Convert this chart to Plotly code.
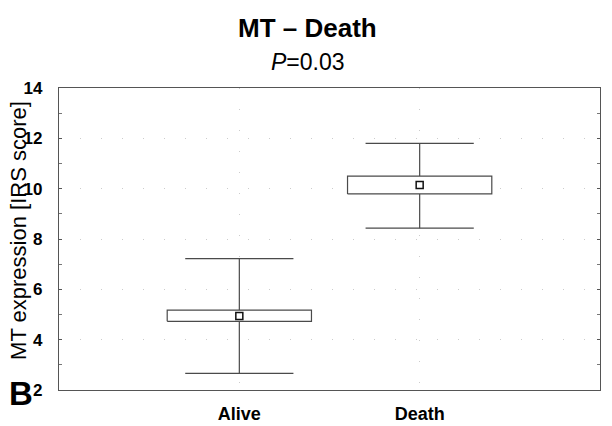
import plotly.graph_objects as go

# Group summary: mean, box (mean ± SE) and whiskers (mean ± 1.96·SD)
groups = ["Alive", "Death"]
means = [4.94, 10.15]
box_low = [4.73, 9.79]
box_high = [5.17, 10.50]
whisker_low = [2.66, 8.43]
whisker_high = [7.22, 11.80]

y_ticks = [2, 4, 6, 8, 10, 12, 14]

BOX_HALF = 0.4
CAP_HALF = 0.3
LINE = "#4a4a4a"
FONT = "Liberation Sans, Arial, sans-serif"

fig = go.Figure()
for i, name in enumerate(groups):
    # whiskers with caps
    fig.add_trace(go.Scatter(
        x=[i - CAP_HALF, i + CAP_HALF, None, i, i, None, i, i, None, i - CAP_HALF, i + CAP_HALF],
        y=[whisker_high[i], whisker_high[i], None, whisker_high[i], box_high[i], None,
           box_low[i], whisker_low[i], None, whisker_low[i], whisker_low[i]],
        mode="lines", line=dict(color=LINE, width=1.2),
        hoverinfo="skip", showlegend=False,
    ))
    # box
    fig.add_trace(go.Scatter(
        x=[i - BOX_HALF, i + BOX_HALF, i + BOX_HALF, i - BOX_HALF, i - BOX_HALF],
        y=[box_low[i], box_low[i], box_high[i], box_high[i], box_low[i]],
        mode="lines", fill="toself", fillcolor="white",
        line=dict(color=LINE, width=1.2),
        hoverinfo="skip", showlegend=False,
    ))
    # mean marker
    fig.add_trace(go.Scatter(
        x=[i], y=[means[i]], mode="markers",
        marker=dict(symbol="square-open", size=7, color="#111",
                    line=dict(width=1.5, color="#111")),
        name=name, showlegend=False,
    ))

fig.update_layout(
    width=612, height=426,
    margin=dict(l=59, r=12, t=88, b=36),
    paper_bgcolor="white", plot_bgcolor="white",
    font=dict(family=FONT, color="black"),
    xaxis=dict(
        range=[-1, 2], tickvals=list(range(len(groups))), ticktext=[f"<b>{g}</b>" for g in groups],
        tickfont=dict(size=18, family=FONT, color="black"),
        showline=True, linecolor="#555", linewidth=1.2, mirror=True,
        showgrid=True, gridcolor="#cccccc", griddash="1px,20px", gridwidth=1,
        ticks="", zeroline=False, ticklabelstandoff=7, automargin=False,
    ),
    yaxis=dict(
        range=[2, 14], tickvals=y_ticks, ticktext=[f"<b>{v}</b>" for v in y_ticks],
        tickfont=dict(size=17, family=FONT, color="black"),
        showline=True, linecolor="#555", linewidth=1.2, mirror="ticks",
        ticks="inside", ticklen=3, tickcolor="#555",
        minor=dict(dtick=1, ticks="inside", ticklen=3, tickcolor="#777", showgrid=False),
        showgrid=True, gridcolor="#cccccc", griddash="1px,20px", gridwidth=1,
        zeroline=False, ticklabelstandoff=12, automargin=False,
    ),
    annotations=[
        dict(text="<b>MT – Death</b>", x=0.46, y=1.2, xref="paper", yref="paper",
             xanchor="center", yanchor="middle", showarrow=False,
             font=dict(size=26, family=FONT, color="black")),
        dict(text="<i>P</i>=0.03", x=0.46, y=1.087, xref="paper", yref="paper",
             xanchor="center", yanchor="middle", showarrow=False,
             font=dict(size=23, family=FONT, color="black")),
        dict(text="MT expression [IRS score]", x=-0.074, y=0.53, xref="paper", yref="paper",
             xanchor="center", yanchor="middle", textangle=-90, showarrow=False,
             font=dict(size=22, family=FONT, color="black")),
        dict(text="<b>B</b>", x=-0.07, y=-0.01, xref="paper", yref="paper",
             xanchor="center", yanchor="middle", showarrow=False,
             font=dict(size=33, family=FONT, color="black")),
    ],
)

fig.write_html("out.html")
